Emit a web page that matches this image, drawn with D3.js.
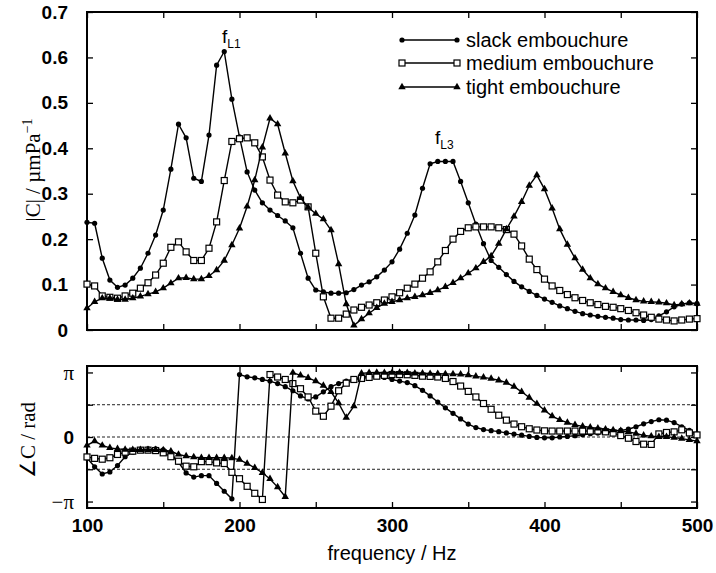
<!DOCTYPE html>
<html>
<head>
<meta charset="utf-8">
<script src="https://cdn.jsdelivr.net/npm/d3@7"></script>
<style>
  body { margin: 0; background: #fff; }
  svg { display: block; }
  .sans { font-family: "Liberation Sans", Arial, sans-serif; }
  .serif { font-family: "Liberation Serif", "Times New Roman", serif; }
</style>
</head>
<body>
<div id="chart"></div>
<script>
// frequency grid, 5 Hz steps
const freq = d3.range(100, 501, 5);

// |C| in µm/Pa
const magSlack = [
  0.237, 0.235, 0.158, 0.110, 0.094, 0.099, 0.114, 0.136, 0.169, 0.209,
  0.264, 0.354, 0.453, 0.423, 0.334, 0.327, 0.429, 0.583, 0.613, 0.508,
  0.425, 0.348, 0.308, 0.280, 0.264, 0.252, 0.240, 0.225, 0.169, 0.114,
  0.088, 0.084, 0.081, 0.081, 0.082, 0.089, 0.099, 0.106, 0.117, 0.132,
  0.150, 0.178, 0.213, 0.253, 0.312, 0.366, 0.371, 0.371, 0.371, 0.327,
  0.280, 0.233, 0.190, 0.153, 0.138, 0.122, 0.107, 0.095, 0.085, 0.076,
  0.068, 0.061, 0.053, 0.047, 0.041, 0.036, 0.033, 0.030, 0.028, 0.026,
  0.023, 0.022, 0.022, 0.021, 0.023, 0.031, 0.040, 0.051, 0.057, 0.060,
  0.058
];
const magMedium = [
  0.101, 0.097, 0.075, 0.072, 0.070, 0.075, 0.081, 0.092, 0.104, 0.121,
  0.147, 0.182, 0.194, 0.172, 0.153, 0.153, 0.180, 0.238, 0.329, 0.415,
  0.421, 0.423, 0.412, 0.381, 0.330, 0.297, 0.282, 0.280, 0.286, 0.271,
  0.169, 0.073, 0.026, 0.026, 0.035, 0.044, 0.050, 0.055, 0.060, 0.066,
  0.073, 0.082, 0.092, 0.101, 0.114, 0.128, 0.150, 0.175, 0.200, 0.217,
  0.225, 0.227, 0.227, 0.227, 0.225, 0.221, 0.211, 0.185, 0.156, 0.133,
  0.112, 0.097, 0.087, 0.078, 0.071, 0.065, 0.060, 0.056, 0.052, 0.050,
  0.047, 0.043, 0.038, 0.033, 0.028, 0.024, 0.022, 0.020, 0.022, 0.024,
  0.025
];
const magTight = [
  0.048, 0.062, 0.070, 0.070, 0.067, 0.067, 0.070, 0.074, 0.079, 0.084,
  0.092, 0.103, 0.114, 0.115, 0.112, 0.112, 0.119, 0.132, 0.153, 0.187,
  0.224, 0.272, 0.330, 0.402, 0.466, 0.453, 0.389, 0.328, 0.291, 0.270,
  0.256, 0.244, 0.220, 0.145, 0.057, 0.010, 0.024, 0.037, 0.049, 0.058,
  0.062, 0.066, 0.070, 0.073, 0.077, 0.082, 0.088, 0.095, 0.104, 0.114,
  0.125, 0.136, 0.150, 0.163, 0.190, 0.222, 0.250, 0.282, 0.318, 0.341,
  0.310, 0.268, 0.222, 0.188, 0.158, 0.133, 0.114, 0.101, 0.092, 0.084,
  0.077, 0.071, 0.066, 0.063, 0.062, 0.061, 0.059, 0.055, 0.057, 0.059,
  0.058
];

// phase of C in rad
const phaseSlack = [
  -1.02, -1.45, -1.80, -1.70, -1.39, -0.96, -0.74, -0.64, -0.58, -0.58,
  -0.62, -0.80, -1.23, -1.75, -1.95, -1.88, -1.88, -2.26, -2.64, -3.01,
  3.04, 2.93, 2.88, 2.80, 2.72, 2.60, 2.45, 2.25, 2.00, 1.85,
  1.95, 2.20, 2.45, 2.60, 2.72, 2.83, 2.92, 2.96, 2.96, 2.90,
  2.80, 2.72, 2.65, 2.50, 2.27, 2.00, 1.70, 1.42, 1.15, 0.88,
  0.63, 0.46, 0.36, 0.31, 0.26, 0.20, 0.14, 0.09, 0.03, -0.02,
  -0.04, -0.04, 0.00, 0.03, 0.06, 0.11, 0.16, 0.19, 0.23, 0.28,
  0.32, 0.38, 0.50, 0.64, 0.75, 0.84, 0.82, 0.70, 0.50, 0.32,
  0.15
];
const phaseMedium = [
  -0.97, -1.04, -1.08, -1.01, -0.85, -0.74, -0.69, -0.64, -0.64, -0.66,
  -0.77, -0.96, -1.18, -1.42, -1.45, -1.20, -1.20, -1.26, -1.29, -1.72,
  -2.03, -2.40, -2.74, -3.04, 3.04, 2.92, 2.80, 2.60, 2.35, 1.95,
  1.26, 1.01, 1.50, 2.25, 2.62, 2.80, 2.85, 2.90, 2.96, 3.00,
  3.04, 3.04, 3.03, 3.00, 2.96, 2.95, 2.92, 2.85, 2.70, 2.48,
  2.22, 1.95, 1.63, 1.35, 1.06, 0.82, 0.63, 0.50, 0.40, 0.34,
  0.30, 0.29, 0.29, 0.29, 0.29, 0.29, 0.29, 0.29, 0.25, 0.19,
  0.07, -0.06, -0.22, -0.35, -0.36, 0.15, 0.22, 0.25, 0.35, 0.20,
  0.10
];
const phaseTight = [
  -0.41, -0.20, -0.41, -0.53, -0.58, -0.61, -0.62, -0.62, -0.62, -0.62,
  -0.64, -0.69, -0.85, -0.93, -0.98, -1.01, -1.01, -1.01, -1.01, -1.03,
  -1.10, -1.29, -1.50, -1.74, -2.04, -2.44, -2.91, 3.13, 3.00, 2.88,
  2.72, 2.50, 2.20, 1.65, 0.95, 1.50, 3.10, 3.13, 3.14, 3.13,
  3.13, 3.14, 3.12, 3.10, 3.10, 3.08, 3.08, 3.07, 3.06, 3.05,
  3.01, 2.95, 2.90, 2.84, 2.76, 2.65, 2.45, 2.20, 1.92, 1.62,
  1.30, 1.02, 0.83, 0.70, 0.59, 0.52, 0.47, 0.42, 0.38, 0.34,
  0.30, 0.25, 0.17, 0.08, 0.04, 0.01, 0.01, -0.03, -0.08, -0.14,
  -0.20
];

const seriesNames = ["slack embouchure", "medium embouchure", "tight embouchure"];
const markerKinds = ["circle", "square", "triangle"];
const magTicks = [0, 0.1, 0.2, 0.3, 0.4, 0.5, 0.6, 0.7];
const freqTicks = [100, 200, 300, 400, 500];
const PI = Math.PI;
const phaseTicks = [-PI, -PI / 2, 0, PI / 2, PI];
const phaseLabels = {"-3.14": "\u2212\u03c0", "0.00": "0", "3.14": "\u03c0"};

const width = 716, height = 573;
const left = 87, right = 697;

const svg = d3.select("#chart").append("svg")
  .attr("width", width)
  .attr("height", height);

const x = d3.scaleLinear().domain([100, 500]).range([left, right]);
const yMag = d3.scaleLinear().domain([0, 0.7]).range([330, 12]);
const yPh = d3.scaleLinear().domain([-1.1 * PI, 1.1 * PI]).range([508, 366]);

const minorFreq = d3.range(100, 501, 50);

// draw one panel frame with inward ticks
function frame(y, yTicks, yFmt, padL) {
  const top = y.range()[1], bottom = y.range()[0];
  const g = svg.append("g");

  g.append("g").attr("transform", `translate(0,${bottom})`)
    .call(d3.axisBottom(x).tickValues(minorFreq).tickSize(-6).tickFormat(""));
  g.append("g").attr("transform", `translate(0,${top})`)
    .call(d3.axisTop(x).tickValues(minorFreq).tickSize(-6).tickFormat(""));
  g.append("g").attr("transform", `translate(${right},0)`)
    .call(d3.axisRight(y).tickValues(yTicks).tickSize(-6).tickFormat(""));
  const ax = g.append("g").attr("transform", `translate(${left},0)`)
    .call(d3.axisLeft(y).tickValues(yTicks).tickSize(-6).tickPadding(padL).tickFormat(yFmt));

  g.selectAll(".domain").remove();
  g.selectAll(".tick line").attr("stroke", "#000").attr("stroke-width", 1.3);

  g.append("rect")
    .attr("x", left).attr("y", top)
    .attr("width", right - left).attr("height", bottom - top)
    .attr("fill", "none").attr("stroke", "#000").attr("stroke-width", 2);
  return ax;
}

// top panel axes
const axTop = frame(yMag, magTicks, d => d3.format(".1f")(d).replace(/^0\.0$/, "0"), 19);
axTop.selectAll("text")
  .attr("class", "sans")
  .style("font-size", "19px")
  .style("font-weight", "bold")
  .attr("fill", "#000");

// bottom panel: dashed reference lines
svg.append("g").selectAll("line")
  .data([-PI / 2, 0, PI / 2])
  .join("line")
  .attr("x1", left).attr("x2", right)
  .attr("y1", d => yPh(d)).attr("y2", d => yPh(d))
  .attr("stroke", "#222").attr("stroke-width", 1)
  .attr("stroke-dasharray", "3,2");

const axBot = frame(yPh, phaseTicks, d => phaseLabels[d.toFixed(2)] || "", 13);
axBot.selectAll("text")
  .attr("class", d => d === 0 ? "sans" : "serif")
  .style("font-size", d => d === 0 ? "19px" : "21px")
  .style("font-weight", d => d === 0 ? "bold" : "normal")
  .attr("fill", "#000");

// frequency labels below bottom panel
svg.append("g").attr("transform", "translate(0,508)")
  .call(d3.axisBottom(x).tickValues(freqTicks).tickSize(0).tickPadding(11))
  .call(g => g.select(".domain").remove())
  .selectAll("text")
  .attr("class", "sans")
  .style("font-size", "19px")
  .style("font-weight", "bold")
  .attr("fill", "#000");

// axis titles
svg.append("text")
  .attr("class", "sans")
  .attr("x", 392).attr("y", 560)
  .attr("text-anchor", "middle")
  .style("font-size", "20px")
  .text("frequency / Hz");

const yt = svg.append("text")
  .attr("class", "serif")
  .attr("transform", "translate(40,170) rotate(-90)")
  .attr("text-anchor", "middle")
  .style("font-size", "21px");
yt.append("tspan").text("|C| / \u00b5mPa");
yt.append("tspan").attr("dy", -8).style("font-size", "14px").text("\u22121");

svg.append("text")
  .attr("class", "serif")
  .attr("transform", "translate(35,440) rotate(-90)")
  .attr("text-anchor", "middle")
  .style("font-size", "21px")
  .text("\u2220C / rad");

// markers
function drawMarkers(g, kind, pts) {
  if (kind === "circle") {
    g.selectAll("circle").data(pts).join("circle")
      .attr("cx", d => d[0]).attr("cy", d => d[1]).attr("r", 2.6)
      .attr("fill", "#000");
  } else if (kind === "square") {
    g.selectAll("rect").data(pts).join("rect")
      .attr("x", d => d[0] - 3).attr("y", d => d[1] - 3)
      .attr("width", 6).attr("height", 6)
      .attr("fill", "#fff").attr("stroke", "#000").attr("stroke-width", 1.2);
  } else {
    const tri = d3.symbol().type(d3.symbolTriangle).size(24)();
    g.selectAll("path.m").data(pts).join("path").attr("class", "m")
      .attr("d", tri)
      .attr("transform", d => `translate(${d[0]},${d[1]})`)
      .attr("fill", "#000");
  }
}

function drawSeries(values, y, kind) {
  const pts = values.map((v, i) => [x(freq[i]), y(v)]);
  const g = svg.append("g");
  g.append("path")
    .attr("d", d3.line()(pts))
    .attr("fill", "none").attr("stroke", "#000").attr("stroke-width", 1.4);
  drawMarkers(g, kind, pts);
}

[magSlack, magMedium, magTight].forEach((s, i) => drawSeries(s, yMag, markerKinds[i]));
[phaseSlack, phaseMedium, phaseTight].forEach((s, i) => drawSeries(s, yPh, markerKinds[i]));

// peak labels
function peakLabel(px, py, sub) {
  const t = svg.append("text").attr("class", "sans")
    .attr("x", px).attr("y", py).style("font-size", "19px");
  t.append("tspan").text("f");
  t.append("tspan").attr("dy", 5).style("font-size", "12px").text(sub);
}
peakLabel(222, 43, "L1");
peakLabel(435, 144, "L3");

// legend
const legendRows = [40, 63, 87];
seriesNames.forEach((name, i) => {
  const g = svg.append("g");
  const ly = legendRows[i];
  g.append("line")
    .attr("x1", 402).attr("x2", 457).attr("y1", ly).attr("y2", ly)
    .attr("stroke", "#000").attr("stroke-width", 1.4);
  drawMarkers(g, markerKinds[i], [[402, ly], [457, ly]]);
  g.append("text").attr("class", "sans")
    .attr("x", 466).attr("y", ly + 7)
    .style("font-size", "20px")
    .text(name);
});
</script>
</body>
</html>
